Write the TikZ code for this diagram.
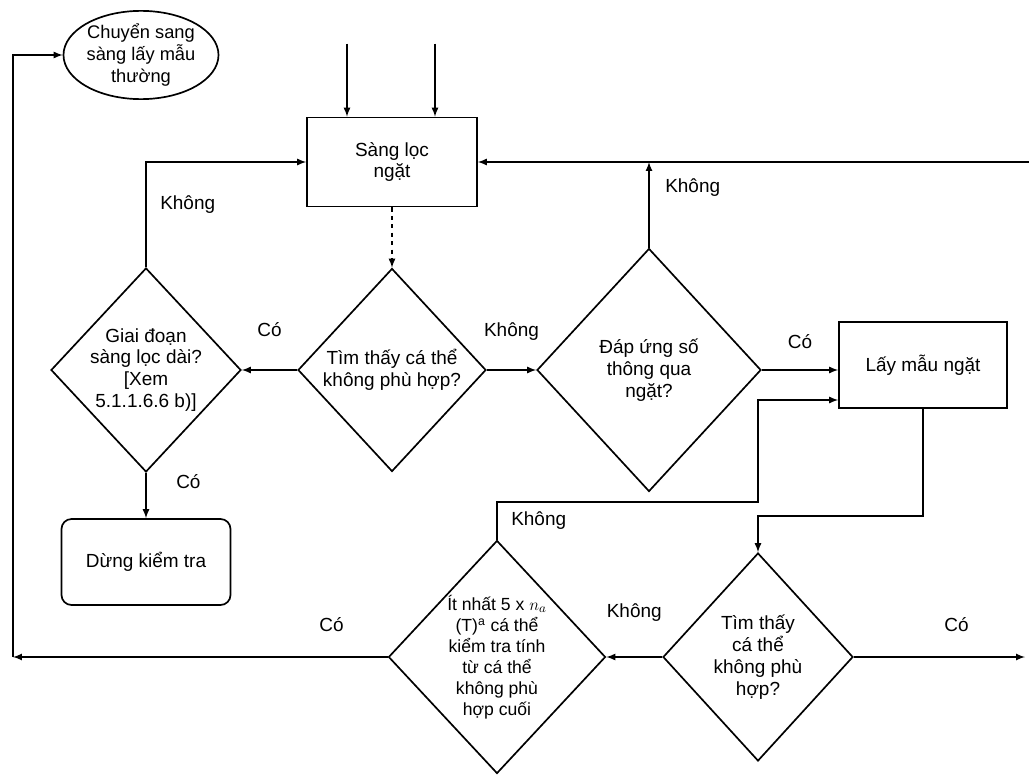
\documentclass[tikz,border=0pt]{standalone}
\usepackage{fontspec}
\setmainfont{Liberation Sans}
\usetikzlibrary{positioning}
\usetikzlibrary{shapes.geometric}
\usetikzlibrary{calc}
\tikzset{
	process/.style={draw, rectangle, very thick, inner sep=2pt, align=center, font=\fontsize{13.5}{15.6}\selectfont},
	decision/.style={draw, diamond, very thick, inner sep=0pt, align=center, font=\fontsize{13.5}{15.6}\selectfont},
	terminal/.style={draw, ellipse, very thick, inner sep=0pt, align=center, font=\fontsize{13}{15.6}\selectfont},
	stopbox/.style={draw, rectangle, rounded corners=0.25cm, very thick, inner sep=2pt, align=center, font=\fontsize{13.5}{15.6}\selectfont},
	% Co / Khong on the connectors
	lbl/.style={inner sep=1pt, font=\fontsize{13.5}{15.6}\selectfont},
}

\begin{document}
\begin{tikzpicture}
	\useasboundingbox (0,0) rectangle (25.725,-19.4);
	
	\node (sang) [process, minimum width=4.25cm, minimum height=2.225cm] at (9.8,-4.05) {Sàng lọc\\ngặt};
	
	\node (tim1) [decision, below of=sang, yshift=-4.2cm, minimum width=4.7cm, minimum height=5.075cm] {Tìm thấy cá thể\\không phù hợp?};
	\node (giai) [decision, inner sep=-3pt, left of=tim1, xshift=-5.15cm, minimum width=4.75cm, minimum height=5.1cm] {Giai đoạn\\sàng lọc dài?\\{[}Xem\\5.1.1.6.6 b)]};
	\node (dap) [decision, right of=tim1, xshift=5.425cm, minimum width=5.6cm, minimum height=6.075cm] {Đáp ứng số\\thông qua\\ngặt?};
	\node (lay) [process, right of=dap, xshift=5.85cm, yshift=0.125cm, minimum width=4.2cm, minimum height=2.15cm] {Lấy mẫu ngặt};
	
	\node (dung) [stopbox, below of=giai, yshift=-3.8cm, minimum width=4.225cm, minimum height=2.15cm] {Dừng kiểm tra};
	\node (chuyen) [terminal, above of=giai, yshift=6.875cm, xshift=-0.125cm, minimum width=3.875cm, minimum height=2.125cm] {Chuyển sang\\sàng lấy mẫu\\thường};
	
	\node (tim2) [decision, below of=dap, yshift=-6.175cm, xshift=2.725cm, minimum width=4.75cm, minimum height=5.2cm] {Tìm thấy\\cá thể\\không phù\\hợp?};
	\node (itnhat) [decision, inner sep=-4pt, font=\fontsize{12.5}{15}\selectfont, left of=tim2, xshift=-5.525cm, minimum width=5.425cm, minimum height=5.825cm] {Ít nhất 5 x $n_a$\\(T)\textsuperscript{a} cá thể\\kiểm tra tính\\từ cá thể\\không phù\\hợp cuối};
	
	\coordinate (in1) at ([xshift=-1.125cm, yshift=1.825cm]sang.north);
	\coordinate (in2) at ([xshift=1.075cm, yshift=1.825cm]sang.north);
	\coordinate (rin) at (25.725,0 |- sang.east);
	\coordinate (rout) at (25.625,0 |- tim2.east);
	\coordinate (lc) at (0.325,0 |- itnhat.west);
	\coordinate (k1) at ([yshift=0.9cm]tim2.north);
	\coordinate (k2) at ([yshift=0.95cm]itnhat.north);
	\coordinate (k3) at ([yshift=-0.875cm]lay.west);
	
	\begin{scope}[very thick, black, ->, >=latex]
		\draw (in1) -- (in1 |- sang.north);
		\draw (in2) -- (in2 |- sang.north);
		\draw (rin) -- (sang.east);
		\draw[dashed] (sang.south) -- (tim1.north);
		\draw (giai.north) |- node[lbl, pos=0.3, right=0.3cm] {Không} (sang.west);
		
		\draw (tim1.west) -- node[lbl, yshift=1cm] {Có} (giai.east);
		\draw (tim1.east) -- node[lbl, yshift=0.95cm] {Không} (dap.west);
		\draw (dap.north) -- node[lbl, pos=0.7, right=0.35cm] {Không} (dap.north |- sang.east);
		\draw (dap.east) -- node[lbl, yshift=0.7cm] {Có} (dap.east -| lay.west);
		\draw (giai.south) -- node[lbl, pos=0.2, right=0.7cm] {Có} (dung.north);
		
		\draw (lay.south) |- (k1) -- (tim2.north);
		\draw (itnhat.north) -- node[lbl, right=0.3cm] {Không} (k2) -| (tim2.north |- k3) -- (k3);
		\draw (tim2.west) -- node[lbl, yshift=1.1cm] {Không} (itnhat.east);
		\draw (tim2.east) -- node[lbl, pos=0.6, yshift=0.8cm] {Có} (rout);
		\draw (itnhat.west) -- node[lbl, pos=0.15, yshift=0.8cm] {Có} (lc);
		\draw (lc) |- (chuyen.west);
	\end{scope}
	
\end{tikzpicture}
\end{document}
